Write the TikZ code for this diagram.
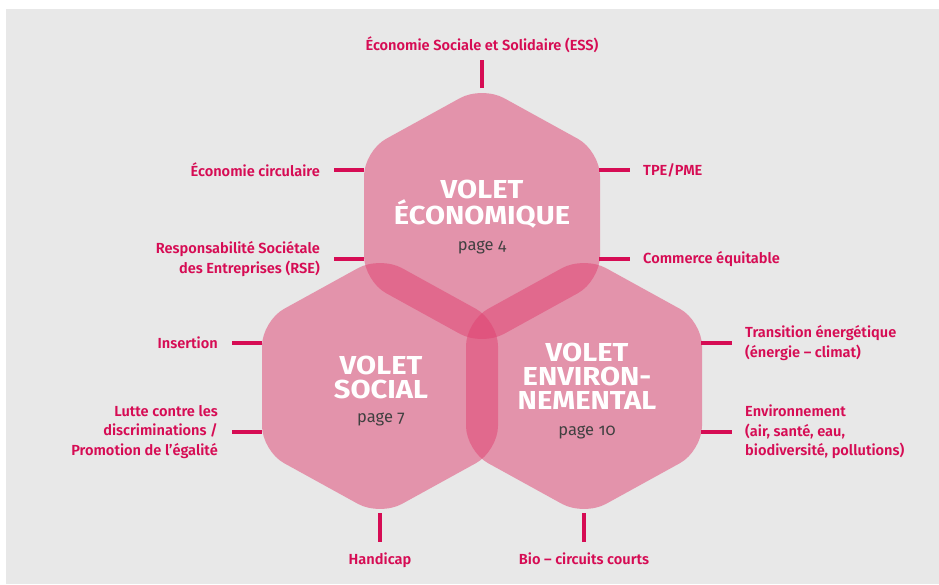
\documentclass[tikz,border=0pt]{standalone}
\usepackage{fontspec}
\setmainfont{Fira Sans}
\newfontfamily\lblfont{Fira Sans}[UprightFont=* SemiBold]
\newfontfamily\ttlfont{Fira Sans}[UprightFont=* Bold, FakeStretch=1.12]
\newfontfamily\pgfont{Fira Sans}[Numbers=OldStyle]
\usetikzlibrary{positioning}
\definecolor{rubine}{RGB}{214,12,84}
\definecolor{hexpink}{RGB}{224,64,112}
\definecolor{bggray}{RGB}{232,232,232}
\definecolor{pggray}{RGB}{64,64,64}
\tikzstyle{stub} = [line width=3.5pt, draw=rubine]

\begin{document}
\begin{tikzpicture}
        [
            x=1pt, y=-1pt,
            hexfill/.style={fill=hexpink, fill opacity=0.5, rounded corners=25pt},
            lbl/.style={text=rubine, inner sep=0pt, font=\lblfont\fontsize{14.6}{19.5}\selectfont},
            lblL/.style={lbl, align=right},
            lblR/.style={lbl, align=left},
            title/.style={text=white, inner sep=0pt, align=center, font=\ttlfont\fontsize{26}{24}\selectfont},
            pg/.style={text=pggray, inner sep=0pt, font=\pgfont\fontsize{16.5}{20}\selectfont},
        ]

    \useasboundingbox (0,0) rectangle (939,584);
    \fill[bggray] (6,9) rectangle (939,584);

    % the three hexagons
    \foreach \cx/\cy/\hx in {482/216/eco, 380/386/soc, 584/386/env}{
        \coordinate (\hx) at (\cx,\cy);
        \fill[hexfill] (\cx-118,\cy) -- (\cx-118,\cy-65) -- (\cx,\cy-130) -- (\cx+118,\cy-65)
            -- (\cx+118,\cy+65) -- (\cx,\cy+130) -- (\cx-118,\cy+65) -- cycle;
    }

    % stub ends: on the hexagon (A) and free (B)
    \coordinate (essA) at (482,88);  \coordinate (essB) at (482,60);
    \coordinate (circA) at (364,170); \coordinate (circB) at (334,170);
    \coordinate (rseA) at (364,259);  \coordinate (rseB) at (334,259);
    \coordinate (tpeA) at (599,170);  \coordinate (tpeB) at (630,170);
    \coordinate (comA) at (599,259);  \coordinate (comB) at (630,259);
    \coordinate (insA) at (262,343);  \coordinate (insB) at (232,343);
    \coordinate (lutA) at (262,432);  \coordinate (lutB) at (232,432);
    \coordinate (traA) at (701,343);  \coordinate (traB) at (732,343);
    \coordinate (envA) at (701,432);  \coordinate (envB) at (732,432);
    \coordinate (hanA) at (380,513);  \coordinate (hanB) at (380,542);
    \coordinate (bioA) at (584,513);  \coordinate (bioB) at (584,542);

    \foreach \s in {ess,circ,rse,tpe,com,ins,lut,tra,env,han,bio}
        \draw[stub] (\s A) -- (\s B);

    % labels
    \node[lbl, above=7pt of essB] (ess) {Économie Sociale et Solidaire (ESS)};
    \node[lblL, left=14pt of circB] (circ) {Économie circulaire};
    \node[lblL, left=14pt of rseB] (rse) {Responsabilité Sociétale\\des Entreprises (RSE)};
    \node[lblR, right=13pt of tpeB] (tpe) {TPE/PME};
    \node[lblR, right=13pt of comB] (com) {Commerce équitable};
    \node[lblL, left=14pt of insB] (ins) {Insertion};
    \node[lblL, left=14pt of lutB] (lut) {Lutte contre les\\discriminations /\\Promotion de l’égalité};
    \node[lblR, right=13pt of traB] (tra) {Transition énergétique\\(énergie – climat)};
    \node[lblR, right=13pt of envB] (envi) {Environnement\\(air, santé, eau,\\biodiversité, pollutions)};
    \node[lbl, below=11pt of hanB] (han) {Handicap};
    \node[lbl, below=11pt of bioB] (bio) {Bio – circuits courts};

    % titles
    \node[title] (ecoT) at (482,204) {VOLET\\ÉCONOMIQUE};
    \node[pg, below=12pt of ecoT] (ecoP) {page 4};
    \node[title] (socT) at (381,377) {VOLET\\SOCIAL};
    \node[pg, below=14pt of socT] (socP) {page 7};
    \node[title] (envT) at (587,376) {VOLET\\ENVIRON-\\NEMENTAL};
    \node[pg, below=16pt of envT] (envP) {page 10};
\end{tikzpicture}
\end{document}
